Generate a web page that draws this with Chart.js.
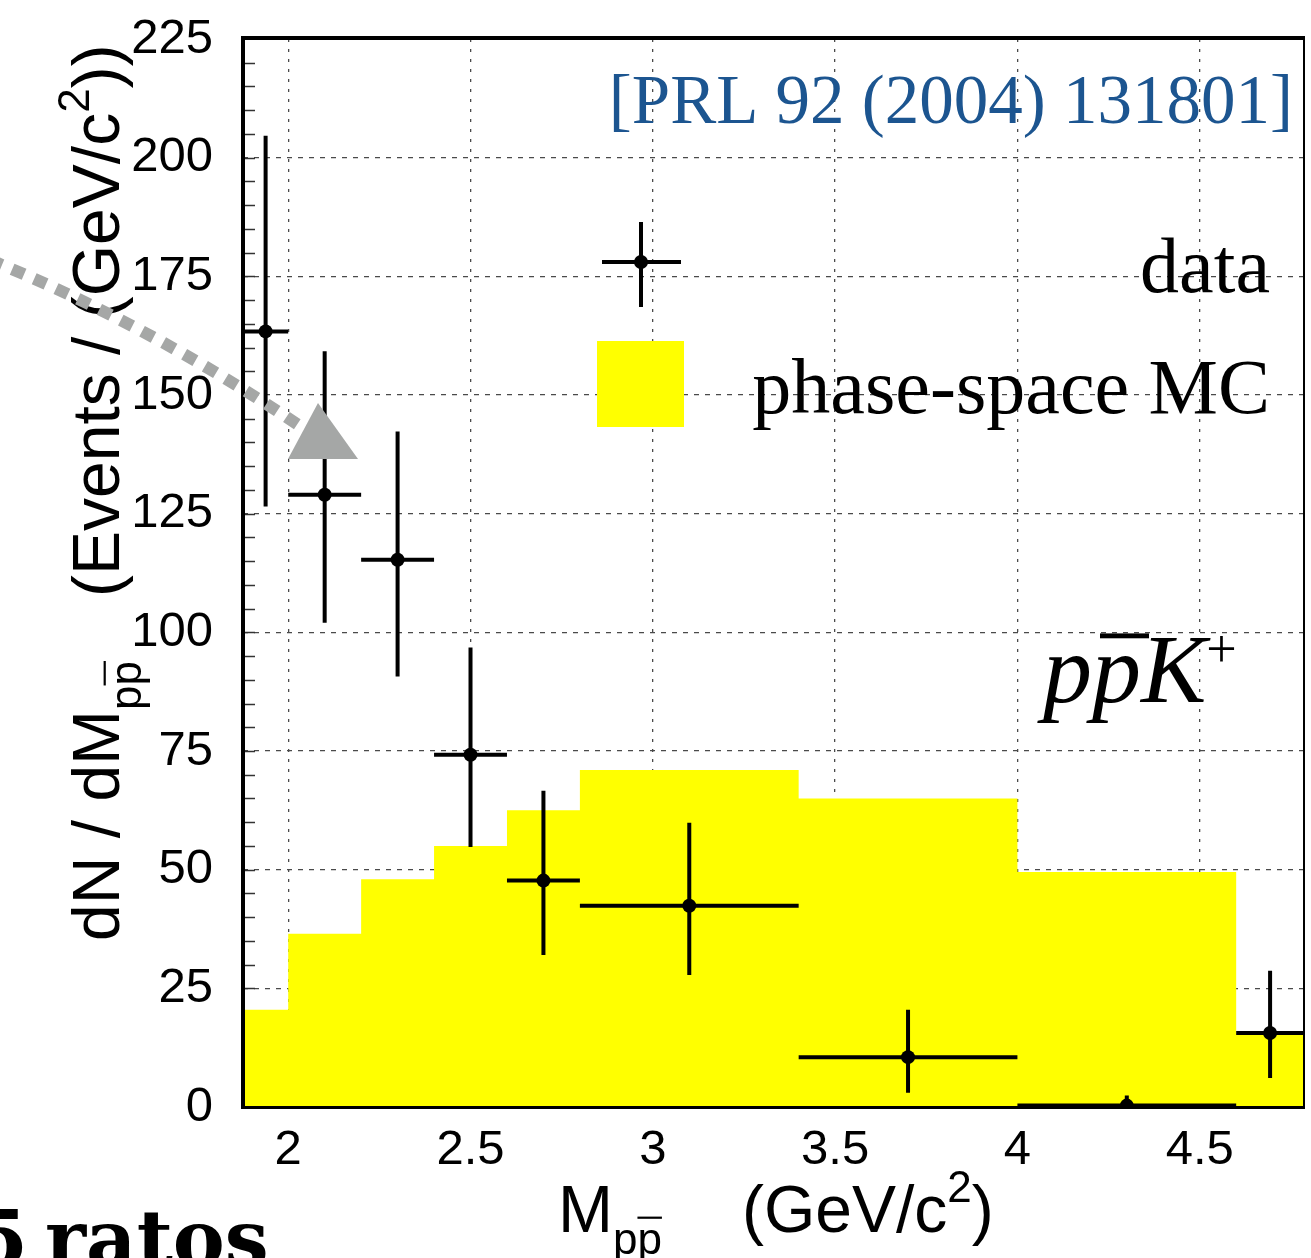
<!DOCTYPE html>
<html>
<head>
<meta charset="utf-8">
<script src="https://cdn.jsdelivr.net/npm/chart.js@4.4.0/dist/chart.umd.min.js"></script>
<style>
  html, body { margin: 0; padding: 0; background: #fff; overflow: hidden; }
  canvas { display: block; }
</style>
</head>
<body>
<canvas id="chart1" width="1311" height="1258"></canvas>
<script>
// M(p pbar) bins, GeV/c^2
const binLo = [1.876, 2.0, 2.2, 2.4, 2.6, 2.8, 3.4, 4.0, 4.6];
const binHi = [2.0, 2.2, 2.4, 2.6, 2.8, 3.4, 4.0, 4.6, 4.786];

// measured spectrum with errors
const dataX = [1.938, 2.1, 2.3, 2.5, 2.7, 3.1, 3.7, 4.3, 4.693];
const dataY = [163.4, 129, 115.3, 74.2, 47.7, 42.4, 10.5, 0.3, 15.6];
const errLo = [126.5, 102, 90.7, 54.8, 32, 27.8, 3, 0, 6.1];
const errHi = [204.6, 159.2, 142.3, 96.8, 66.6, 59.9, 20.5, 2.4, 28.7];

// phase-space MC, one value per bin
const mcY = [20.5, 36.5, 48, 55, 62.5, 71, 65, 49.5, 15.5];

const xTicks = [2, 2.5, 3, 3.5, 4, 4.5];
const yTicks = [0, 25, 50, 75, 100, 125, 150, 175, 200, 225];
const yMinorStep = 5;

const SANS = '"Liberation Sans", Arial, sans-serif';
const SERIF = '"Liberation Serif", "Times New Roman", serif';

// stepped outline: left edge of every bin + closing right edge
const mcPoints = binLo.map((x, i) => ({ x: x, y: mcY[i] }));
mcPoints.push({ x: binHi[binHi.length - 1], y: mcY[mcY.length - 1] });

const dataPoints = dataX.map((x, i) => ({ x: x, y: dataY[i] }));

// draw a run of text pieces (sub/superscripts, overline on a char)
function drawPieces(ctx, pieces, x, y) {
  let cx = x;
  pieces.forEach(p => {
    if (p.gap) { cx += p.gap; return; }
    ctx.font = (p.style || '') + ' ' + p.size + 'px ' + (p.family || SANS);
    const w = ctx.measureText(p.text).width;
    const by = y + (p.dy || 0);
    ctx.fillText(p.text, cx, by);
    if (p.bar) {
      const w0 = ctx.measureText(p.text.slice(0, p.bar[0])).width;
      const w1 = ctx.measureText(p.text.slice(0, p.bar[1])).width;
      ctx.fillRect(cx + w0 + (p.barShift || 0), by - p.size * (p.barH || 0.68), w1 - w0, Math.max(2, p.size * 0.05));
    }
    cx += w;
  });
  return cx;
}

const minorTicks = {
  id: 'minorTicks',
  beforeDatasetsDraw(chart) {
    const { ctx, chartArea } = chart;
    const ys = chart.scales.y;
    ctx.save();
    ctx.strokeStyle = '#333';
    ctx.lineWidth = 1.5;
    for (let v = yMinorStep; v < ys.max; v += yMinorStep) {
      const py = Math.round(ys.getPixelForValue(v)) + 0.5;
      ctx.beginPath();
      ctx.moveTo(chartArea.left, py);
      ctx.lineTo(chartArea.left + 12, py);
      ctx.stroke();
    }
    ctx.restore();
  }
};

const errorBars = {
  id: 'errorBars',
  afterDatasetsDraw(chart) {
    const { ctx } = chart;
    const xs = chart.scales.x, ys = chart.scales.y;
    ctx.save();
    ctx.strokeStyle = '#000';
    ctx.lineWidth = 4;
    ctx.lineCap = 'butt';
    dataX.forEach((x, i) => {
      const px = xs.getPixelForValue(x);
      const py = ys.getPixelForValue(dataY[i]);
      ctx.beginPath();
      ctx.moveTo(xs.getPixelForValue(binLo[i]), py);
      ctx.lineTo(xs.getPixelForValue(binHi[i]), py);
      ctx.moveTo(px, ys.getPixelForValue(errLo[i]));
      ctx.lineTo(px, ys.getPixelForValue(errHi[i]));
      ctx.stroke();
    });
    ctx.restore();
  }
};

const frameAndText = {
  id: 'frameAndText',
  afterDraw(chart) {
    const { ctx, chartArea: a } = chart;
    ctx.save();

    // frame
    ctx.fillStyle = '#000';
    ctx.fillRect(a.left - 2, a.top - 3, a.right - a.left + 3, 4);   // top
    ctx.fillRect(a.left - 2, a.top - 3, 4, a.bottom - a.top + 4);   // left
    ctx.fillRect(a.left - 2, a.bottom - 1, a.right - a.left + 3, 3); // bottom
    ctx.fillRect(a.right - 1, a.top - 3, 2, a.bottom - a.top + 4);  // right

    // legend
    const lx = 641, ly = 262;
    ctx.strokeStyle = '#000';
    ctx.lineWidth = 4;
    ctx.beginPath();
    ctx.moveTo(lx - 39, ly); ctx.lineTo(lx + 40, ly);
    ctx.moveTo(lx, ly - 40); ctx.lineTo(lx, ly + 45);
    ctx.stroke();
    ctx.beginPath();
    ctx.arc(lx, ly, 7, 0, Math.PI * 2);
    ctx.fill();
    ctx.fillStyle = '#ffff00';
    ctx.fillRect(597, 341, 87, 86);

    ctx.fillStyle = '#000';
    ctx.textAlign = 'right';
    ctx.textBaseline = 'alphabetic';
    ctx.font = '78px ' + SERIF;
    ctx.fillText('data', 1270, 292);
    ctx.fillText('phase-space MC', 1270, 413);

    // reference tag
    ctx.fillStyle = '#1c5590';
    ctx.font = '69px ' + SERIF;
    ctx.fillText('[PRL 92 (2004) 131801]', 1293, 123);

    // channel label
    ctx.textAlign = 'left';
    ctx.fillStyle = '#000';
    drawPieces(ctx, [
      { text: 'pp', size: 98, style: 'italic', family: SERIF, bar: [1, 2], barH: 0.7, barShift: 8 },
      { text: 'K', size: 98, style: 'italic', family: SERIF },
      { text: '+', size: 54, family: SERIF, dy: -35 }
    ], 1043, 702);

    // x title
    drawPieces(ctx, [
      { text: 'M', size: 66 },
      { text: 'pp', size: 44, dy: 22, bar: [1, 2], barH: 0.85 },
      { gap: 80 },
      { text: '(GeV/c', size: 66 },
      { text: '2', size: 44, dy: -30 },
      { text: ')', size: 66 }
    ], 558, 1232);

    // y title, reading bottom to top
    ctx.save();
    ctx.translate(119, 941);
    ctx.rotate(-Math.PI / 2);
    drawPieces(ctx, [
      { text: 'dN / dM', size: 66 },
      { text: 'pp', size: 44, dy: 22, bar: [1, 2], barH: 0.85 },
      { gap: 64 },
      { text: '(Events / (GeV/c', size: 66 },
      { text: '2', size: 44, dy: -30 },
      { text: '))', size: 66 }
    ], 0, 0);
    ctx.restore();

    // grey pointer from the left
    ctx.strokeStyle = '#a5a7a6';
    ctx.fillStyle = '#a5a7a6';
    ctx.lineWidth = 12;
    ctx.setLineDash([13, 11]);
    ctx.beginPath();
    ctx.moveTo(-10, 260);
    ctx.quadraticCurveTo(150, 325, 303, 428);
    ctx.stroke();
    ctx.setLineDash([]);
    ctx.beginPath();
    ctx.moveTo(288, 459);
    ctx.lineTo(358, 459);
    ctx.lineTo(318, 403);
    ctx.closePath();
    ctx.fill();

    // slide text underneath
    ctx.fillStyle = '#000';
    ctx.font = 'bold 78px "DejaVu Serif", serif';
    ctx.textAlign = 'right';
    ctx.fillText('5', 28, 1266);
    ctx.textAlign = 'left';
    ctx.fillText('ratos', 45, 1266);

    ctx.restore();
  }
};

const gridColor = (ctx) => {
  const v = ctx.tick ? ctx.tick.value : null;
  return (v === 0 || v === 225) ? 'rgba(0,0,0,0)' : '#4a4a4a';
};

new Chart(document.getElementById('chart1').getContext('2d'), {
  type: 'scatter',
  data: {
    datasets: [
      {
        label: 'data',
        data: dataPoints,
        pointRadius: 7,
        pointHoverRadius: 7,
        pointBackgroundColor: '#000',
        pointBorderColor: '#000',
        pointBorderWidth: 0,
        showLine: false,
        order: 1
      },
      {
        type: 'line',
        label: 'phase-space MC',
        data: mcPoints,
        stepped: true,
        fill: 'origin',
        backgroundColor: '#ffff00',
        borderColor: '#ffff00',
        borderWidth: 0,
        pointRadius: 0,
        order: 2
      }
    ]
  },
  options: {
    responsive: false,
    animation: false,
    events: [],
    layout: { padding: { left: 0, right: 0, top: 39, bottom: 0 } },
    plugins: { legend: { display: false }, tooltip: { enabled: false } },
    scales: {
      x: {
        type: 'linear',
        min: 1.876,
        max: 4.786,
        afterBuildTicks: (axis) => { axis.ticks = xTicks.map(v => ({ value: v })); },
        afterFit: (scale) => { scale.height = 151; scale.paddingLeft = 0; scale.paddingRight = 0; },
        ticks: { color: '#000', font: { family: SANS, size: 49 }, padding: 14, maxRotation: 0, callback: (v) => String(v) },
        grid: { color: gridColor, lineWidth: 1.3, drawTicks: false },
        border: { display: false, dash: [3, 7] }
      },
      y: {
        min: 0,
        max: 225,
        afterBuildTicks: (axis) => { axis.ticks = yTicks.map(v => ({ value: v })); },
        afterFit: (scale) => { scale.width = 243; scale.paddingTop = 0; scale.paddingBottom = 0; },
        ticks: { color: '#000', font: { family: SANS, size: 49 }, padding: 30, callback: (v) => String(v) },
        grid: { color: gridColor, lineWidth: 1.3, drawTicks: false },
        border: { display: false, dash: [5, 6] }
      }
    }
  },
  plugins: [minorTicks, errorBars, frameAndText]
});
</script>
</body>
</html>
